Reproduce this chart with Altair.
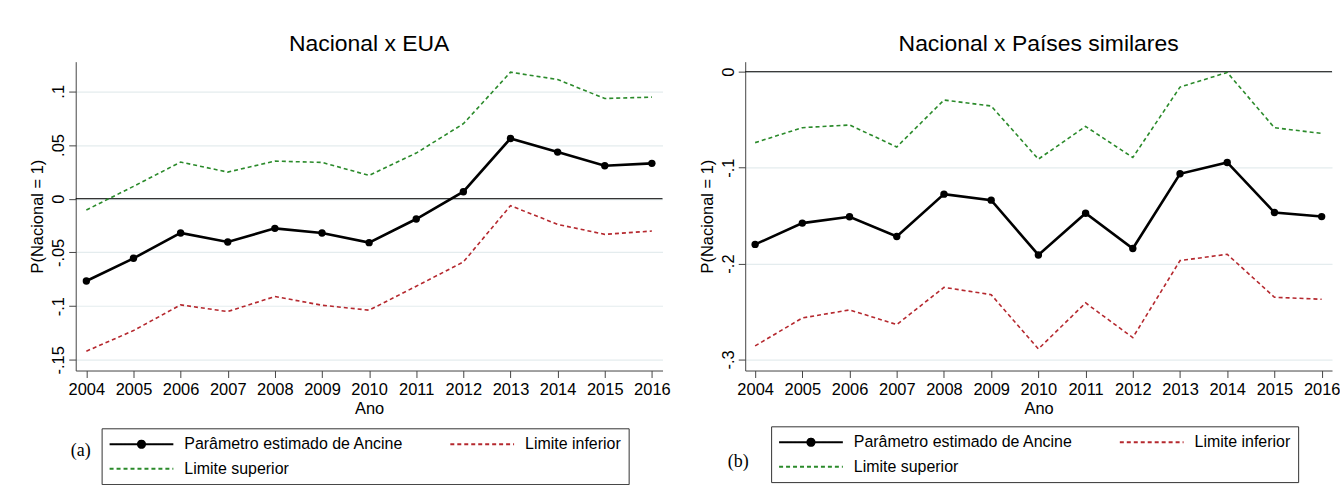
import altair as alt
import pandas as pd

years = list(range(2004, 2017))

# Panel (a): Nacional x EUA
eua_est = [-0.0766, -0.0555, -0.0319, -0.0403, -0.0276, -0.0319, -0.0409,
           -0.0189, 0.0065, 0.0561, 0.0434, 0.0307, 0.0329]
eua_upper = [-0.0105, 0.0115, 0.0341, 0.0248, 0.0350, 0.0338, 0.0217,
             0.0425, 0.0698, 0.1178, 0.1110, 0.0933, 0.0946]
eua_lower = [-0.1420, -0.1228, -0.0989, -0.1051, -0.0911, -0.0992, -0.1038,
             -0.0815, -0.0589, -0.0065, -0.0239, -0.0332, -0.0301]

# Panel (b): Nacional x Países similares
sim_est = [-0.1800, -0.1578, -0.1512, -0.1717, -0.1276, -0.1339, -0.1910,
           -0.1475, -0.1843, -0.1064, -0.0946, -0.1468, -0.1510]
sim_upper = [-0.0739, -0.0583, -0.0555, -0.0784, -0.0295, -0.0357, -0.0911,
             -0.0570, -0.0894, -0.0160, -0.0007, -0.0584, -0.0643]
sim_lower = [-0.2858, -0.2567, -0.2483, -0.2636, -0.2248, -0.2324, -0.2890,
             -0.2410, -0.2772, -0.1969, -0.1903, -0.2351, -0.2372]

series_names = ["Parâmetro estimado de Ancine", "Limite inferior", "Limite superior"]
titles = ["Nacional x EUA", "Nacional x Países similares"]
tags = ["(a)", "(b)"]
eua_yticks = [0.1, 0.05, 0, -0.05, -0.1, -0.15]
sim_yticks = [0, -0.1, -0.2, -0.3]
year_ticks = years

FONT = "Liberation Sans"
SERIF = "Liberation Serif"
C_EST, C_LO, C_UP = "#000000", "#b5282e", "#2a8a2a"
GRID = "#e4ecee"
AXIS = "#444444"

# legend symbols: 64 px long line (scale factor 8), dot radius ~3.6 px
DOT_PATH = ("M-4,0H4M-0.45,0A0.45,0.45,0,1,1,0.45,0"
            "A0.45,0.45,0,1,1,-0.45,0Z")
LINE_PATH = "M-4,0H4"

Y_LABEL_EXPR = ("datum.value == 0 ? '0' : (datum.value < 0 ? '-' : '') + "
                "replace(toString(abs(datum.value)), '0.', '.')")


def panel(est, lo, up, title, yticks, ydomain, xdomain, tag, tag_xy, leg_xy):
    df = pd.DataFrame({
        "year": years * 3,
        "value": est + lo + up,
        "series": [series_names[0]] * 13 + [series_names[1]] * 13 + [series_names[2]] * 13,
    })
    base = alt.Chart(df)
    x_enc = alt.X("year:Q",
                  scale=alt.Scale(domain=xdomain, nice=False, zero=False),
                  axis=alt.Axis(values=year_ticks, format="d", title="Ano",
                                grid=False, tickSize=7, labelPadding=4,
                                labelFontSize=16.5, titleFontSize=16.5,
                                titleFontWeight="normal", titlePadding=3,
                                labelFlush=False, labelOverlap=False,
                                domainColor=AXIS, tickColor=AXIS))
    y_enc = alt.Y("value:Q",
                  scale=alt.Scale(domain=ydomain, nice=False, zero=False),
                  axis=alt.Axis(values=yticks, labelExpr=Y_LABEL_EXPR,
                                title="P(Nacional = 1)", grid=True,
                                gridColor=GRID, gridWidth=1.2, tickSize=7,
                                labelAngle=270, labelAlign="center",
                                labelBaseline="alphabetic", labelPadding=5,
                                labelFontSize=16.5, titleFontSize=16.5,
                                titleFontWeight="normal", titlePadding=5,
                                domainColor=AXIS, tickColor=AXIS))

    zero = alt.Chart(pd.DataFrame({"v": [0]})).mark_rule(
        color="#000000", strokeWidth=1).encode(y=alt.Y("v:Q"))

    lower = base.transform_filter(alt.datum.series == series_names[1]).mark_line(
        color=C_LO, strokeWidth=1.6, strokeDash=[4, 3]).encode(x=x_enc, y=y_enc)
    upper = base.transform_filter(alt.datum.series == series_names[2]).mark_line(
        color=C_UP, strokeWidth=1.6, strokeDash=[4, 3]).encode(x=x_enc, y=y_enc)
    est_line = base.transform_filter(alt.datum.series == series_names[0]).mark_line(
        color=C_EST, strokeWidth=2.6).encode(x=x_enc, y=y_enc)
    est_pts = base.transform_filter(alt.datum.series == series_names[0]).mark_point(
        color=C_EST, filled=True, opacity=1, size=55).encode(x=x_enc, y=y_enc)

    leg = alt.Legend(title=None, orient="none", legendX=leg_xy[0], legendY=leg_xy[1],
                     columns=2, direction="horizontal", values=series_names,
                     symbolSize=256, symbolStrokeWidth=2,
                     symbolOpacity=1, rowPadding=7.5, columnPadding=43,
                     labelFont=FONT, labelFontSize=16, labelColor="#000000",
                     labelOffset=34, labelLimit=500, strokeColor="#333333",
                     fillColor="#ffffff", padding=7, symbolOffset=24)
    dom = series_names
    legend_layer = base.mark_point(opacity=0, filled=True).encode(
        x=x_enc, y=y_enc,
        fill=alt.Fill("series:N", scale=alt.Scale(domain=dom, range=[C_EST, C_LO, C_UP]), legend=leg),
        stroke=alt.Stroke("series:N", scale=alt.Scale(domain=dom, range=[C_EST, C_LO, C_UP]), legend=leg),
        shape=alt.Shape("series:N", scale=alt.Scale(domain=dom, range=[DOT_PATH, LINE_PATH, LINE_PATH]), legend=leg),
        strokeDash=alt.StrokeDash("series:N", scale=alt.Scale(domain=dom, range=[[1, 0], [4, 3], [4, 3]]), legend=leg),
    )

    tag_layer = alt.Chart(pd.DataFrame({"t": [tag]})).mark_text(
        font=SERIF, fontSize=18, color="#000000", align="center", baseline="middle"
    ).encode(text="t:N", x=alt.value(tag_xy[0]), y=alt.value(tag_xy[1]))

    return alt.layer(zero, lower, upper, est_line, est_pts, legend_layer, tag_layer).properties(
        width=589, height=310,
        title=alt.Title(title, fontSize=23, font=FONT, fontWeight="normal",
                        anchor="middle", offset=6, color="#000000"),
    )


left = panel(eua_est, eua_lower, eua_upper, titles[0], eua_yticks,
             [-0.160, 0.1276], [2003.774, 2016.226], tags[0], (5, 391), (26, 368))
right = panel(sim_est, sim_lower, sim_upper, titles[1], sim_yticks,
              [-0.3115, 0.0105], [2003.79, 2016.22], tags[1], (-7, 402), (26, 366))

chart = alt.hconcat(left, right, spacing=29).resolve_scale(
    fill="independent", stroke="independent", shape="independent", strokeDash="independent"
).resolve_legend(
    fill="independent", stroke="independent", shape="independent", strokeDash="independent"
).configure(
    font=FONT,
    padding={"left": 30, "top": 32, "right": 0, "bottom": 0},
    background="#ffffff",
).configure_view(stroke=None).configure_axis(
    labelFont=FONT, titleFont=FONT, labelColor="#000000", titleColor="#000000"
)

chart.save("out.html", embed_options={"renderer": "svg", "actions": False})
